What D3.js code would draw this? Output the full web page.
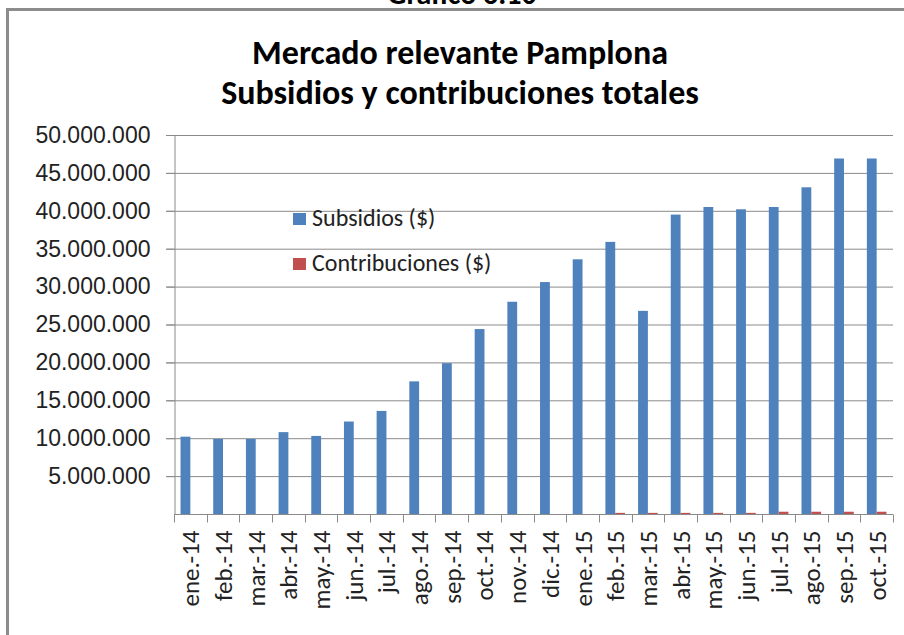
<!DOCTYPE html>
<html lang="es">
<head>
  <meta charset="UTF-8">
  <title>Mercado relevante Pamplona</title>
  <style>
    html, body { margin: 0; padding: 0; background: #fff; }
    svg   { display: block; font-family: Calibri, Carlito, Lato, sans-serif; }
    .grid line { stroke: #8a8a8a; stroke-width: 1px; }
    .axis path, .axis line { stroke: #8a8a8a; stroke-width: 1px; }
    .axis text { fill: #222; }
  </style>
</head>
<body>
  <svg id="chart" width="904" height="635"></svg>

  <script src="https://d3js.org/d3.v7.min.js"></script>
  <script>
    /* ---------- data ---------- */
    const months = ['ene.-14','feb.-14','mar.-14','abr.-14','may.-14','jun.-14','jul.-14','ago.-14',
                    'sep.-14','oct.-14','nov.-14','dic.-14','ene.-15','feb.-15','mar.-15','abr.-15',
                    'may.-15','jun.-15','jul.-15','ago.-15','sep.-15','oct.-15'];
    const subsidios = [10200000, 9900000, 9900000, 10800000, 10300000, 12200000, 13600000, 17500000,
                       19900000, 24400000, 28000000, 30600000, 33600000, 35900000, 26800000, 39500000,
                       40500000, 40200000, 40500000, 43100000, 46900000, 46900000];
    const contribuciones = [0, 0, 0, 0, 0, 0, 0, 0,
                            0, 0, 0, 0, 0, 150000, 150000, 150000,
                            150000, 150000, 300000, 300000, 300000, 300000];
    const seriesNames = ['Subsidios ($)', 'Contribuciones ($)'];
    const seriesColors = ['#4f81bd', '#c0504d'];
    const yTicks = [5000000, 10000000, 15000000, 20000000, 25000000,
                    30000000, 35000000, 40000000, 45000000, 50000000];

    const rows = months.map((m, i) => ({ month: m, values: [subsidios[i], contribuciones[i]] }));

    /* ---------- layout ---------- */
    const plot = { left: 174, right: 893, top: 135, bottom: 514 };
    const svg = d3.select('#chart');

    // outer frame (only top + left visible in the crop)
    svg.append('rect')
       .attr('x', 7.5).attr('y', 9.5)
       .attr('width', 1000).attr('height', 700)
       .attr('fill', 'none')
       .attr('stroke', '#8c8c8c')
       .attr('stroke-width', 3);

    // figure caption, cut off by the top edge like in the source scan
    svg.append('text')
       .attr('x', 462).attr('y', 4)
       .attr('text-anchor', 'middle')
       .attr('font-size', 30).attr('font-weight', 'bold')
       .text('Gráfico 6.10');

    // chart title
    const title = svg.append('text')
       .attr('text-anchor', 'middle')
       .attr('font-size', 34).attr('font-weight', 'bold')
       .attr('fill', '#000');
    title.append('tspan').attr('x', 460).attr('y', 64).text('Mercado relevante Pamplona');
    title.append('tspan').attr('x', 460).attr('y', 104).text('Subsidios y contribuciones totales');

    /* ---------- scales ---------- */
    const x0 = d3.scaleBand()
                 .domain(months)
                 .range([plot.left, plot.right])
                 .padding(0);

    const x1 = d3.scaleBand()
                 .domain([0, 1])
                 .range([0, x0.bandwidth()])
                 .paddingInner(0)
                 .paddingOuter(0.667);

    const y = d3.scaleLinear()
                .domain([0, 50000000])
                .range([plot.bottom, plot.top]);

    const fmt = v => d3.format(',')(v).replace(/,/g, '.');

    /* ---------- gridlines + y axis ---------- */
    svg.append('g')
       .attr('class', 'grid')
       .selectAll('line')
       .data(yTicks)
       .enter().append('line')
       .attr('x1', plot.left - 8)
       .attr('x2', plot.right)
       .attr('y1', d => y(d) + 0.5)
       .attr('y2', d => y(d) + 0.5);

    const yAxis = svg.append('g')
       .attr('class', 'axis')
       .attr('transform', `translate(${plot.left + 0.5},0)`)
       .call(d3.axisLeft(y).tickValues(yTicks).tickSize(8).tickSizeOuter(0).tickFormat(fmt));
    yAxis.selectAll('text')
         .attr('font-size', 23)
         .attr('x', -24);

    /* ---------- x axis ---------- */
    const xAxis = svg.append('g')
       .attr('class', 'axis')
       .attr('transform', `translate(0,${plot.bottom + 0.5})`);
    xAxis.append('line')
         .attr('x1', plot.left).attr('x2', plot.right);
    // tick marks at category boundaries
    xAxis.selectAll('line.tick')
         .data(months.concat(['end']))
         .enter().append('line')
         .attr('class', 'tick')
         .attr('x1', (d, i) => Math.round(plot.left + i * x0.step()) + 0.5)
         .attr('x2', (d, i) => Math.round(plot.left + i * x0.step()) + 0.5)
         .attr('y1', 0).attr('y2', 8);
    xAxis.selectAll('text')
         .data(months)
         .enter().append('text')
         .attr('transform', d => `translate(${x0(d) + x0.bandwidth() / 2 + 9},16) rotate(-90)`)
         .attr('text-anchor', 'end')
         .attr('font-size', 25)
         .text(d => d);

    /* ---------- bars ---------- */
    const groups = svg.selectAll('g.month')
       .data(rows)
       .enter().append('g')
       .attr('class', 'month')
       .attr('transform', d => `translate(${x0(d.month)},0)`);

    groups.selectAll('rect')
       .data(d => d.values)
       .enter().append('rect')
       .attr('x', (v, i) => x1(i))
       .attr('width', x1.bandwidth())
       .attr('y', v => y(v))
       .attr('height', v => y(0) - y(v))
       .attr('fill', (v, i) => seriesColors[i]);

    /* ---------- legend ---------- */
    const legend = svg.selectAll('g.legend')
       .data(seriesNames)
       .enter().append('g')
       .attr('class', 'legend')
       .attr('transform', (d, i) => `translate(293,${213 + i * 45})`);
    legend.append('rect')
          .attr('width', 13).attr('height', 12)
          .attr('fill', (d, i) => seriesColors[i]);
    legend.append('text')
          .attr('x', 19).attr('y', 13)
          .attr('font-size', 24)
          .attr('fill', '#222')
          .text(d => d);
  </script>
</body>
</html>
